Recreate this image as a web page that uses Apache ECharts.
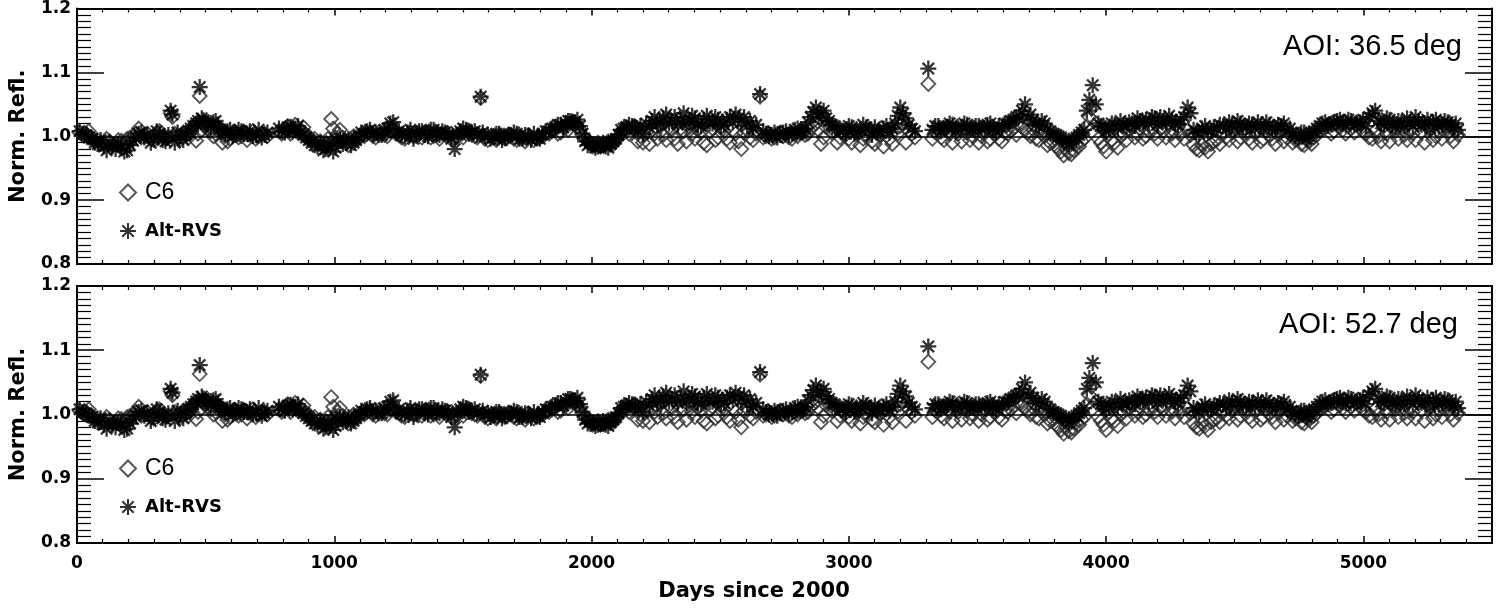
<!DOCTYPE html>
<html>
<head>
<meta charset="utf-8">
<script src="https://cdn.jsdelivr.net/npm/echarts@6/dist/echarts.min.js"></script>
<style>
  html, body { margin: 0; padding: 0; background: #fff; }
  #chart { width: 1498px; height: 610px; }
</style>
</head>
<body>
<div id="chart"></div>
<script>
// two interleaved sets of observations (days since 2000), each shared by C6 and Alt-RVS
const daysA = [
  10, 35, 58, 80, 104, 127, 150, 172, 195, 218, 240,
  262, 287, 310, 333, 355, 364, 380, 402, 425, 442,
  463, 477, 492, 510, 530, 548, 565,
  585, 605, 628, 650, 672, 695, 718, 740,
  785, 808, 830, 848, 870, 890,
  912, 935, 958, 975, 988, 1005, 1022, 1045, 1065, 1085,
  1105, 1128, 1150, 1172, 1195, 1218, 1240, 1262, 1285, 1308, 1330, 1352, 1375, 1398, 1420,
  1442, 1468, 1490, 1512, 1535, 1556, 1569,
  1585, 1608, 1630, 1652, 1675, 1698, 1720, 1742, 1765, 1788, 1810,
  1835, 1858, 1880, 1900, 1918, 1935, 1955,
  1975, 1995, 2015, 2035, 2055, 2075, 2095,
  2115, 2135, 2158, 2180, 2200,
  2225, 2245, 2268, 2290, 2312, 2335, 2358, 2380, 2402, 2425, 2448, 2470, 2492, 2515, 2538, 2560, 2582, 2605, 2628, 2655,
  2678, 2700, 2722, 2745, 2768, 2790, 2812, 2830,
  2852, 2872, 2892, 2912, 2934,
  2955, 2978, 3000, 3022, 3045, 3068, 3090, 3112, 3135, 3158,
  3180, 3200, 3222, 3245,
  3309,
  3325, 3348, 3370, 3392, 3415, 3438, 3460, 3482, 3505, 3528, 3550, 3572, 3595,
  3618, 3640, 3662, 3685, 3706,
  3728, 3750, 3772, 3795, 3815, 3835, 3855, 3875, 3895, 3915,
  3935, 3948, 3960,
  3980, 4000, 4022, 4045, 4068, 4090, 4112, 4132,
  4155, 4178, 4200, 4222, 4245, 4268, 4290, 4317,
  4340, 4362, 4385, 4408, 4430,
  4455, 4478, 4500, 4522, 4545, 4568, 4590, 4612, 4635, 4658, 4680, 4702,
  4725, 4748, 4770, 4790, 4808,
  4830, 4852, 4875, 4898, 4920, 4942, 4965, 4988, 5010,
  5035, 5058, 5080, 5102, 5125, 5148, 5170, 5192, 5215, 5238, 5260, 5282, 5305, 5328, 5350, 5368
];
const c6A = [
  1.006, 1.004, 0.998, 0.994, 0.990, 0.992, 0.988, 0.993, 0.996, 1.000, 1.012,
  1.002, 0.996, 1.006, 1.000, 0.998, 1.036, 1.004, 0.995, 1.002, 1.006,
  0.993, 1.063, 1.018, 1.010, 1.000, 1.015, 0.990,
  0.992, 1.004, 0.998, 1.006, 1.002, 0.996, 1.004, 1.000,
  1.008, 1.012, 1.004, 1.018, 1.010, 1.002,
  0.994, 0.990, 0.986, 0.996, 1.027, 0.998, 1.010, 0.992, 0.995, 0.998,
  1.002, 1.004, 1.000, 1.006, 1.002, 1.008, 1.004, 0.998, 1.002, 1.000, 1.004, 1.006, 0.998, 1.002, 1.004,
  1.000, 0.996, 1.006, 1.004, 1.002, 0.998, 1.060,
  0.996, 1.000, 0.994, 0.998, 1.002, 0.996, 1.000, 0.992, 0.998, 0.996, 1.000,
  1.004, 1.010, 1.006, 1.016, 1.020, 1.018, 1.010,
  0.996, 0.988, 0.986, 0.984, 0.988, 0.990, 0.994,
  1.004, 1.008, 1.012, 0.992, 0.990,
  0.988, 1.004, 1.016, 0.994, 1.010, 0.988, 1.008, 1.014, 0.996, 1.006, 0.986, 1.012, 0.998, 1.008, 0.990, 1.004, 0.980, 1.010, 0.994, 1.062,
  1.000, 0.996, 1.004, 1.000, 0.998, 1.004, 1.008, 1.002,
  1.012, 1.020, 0.988, 1.014, 1.006,
  0.990, 1.004, 0.996, 1.008, 0.986, 1.002, 0.992, 1.006, 0.984, 0.996,
  1.010, 1.016, 0.990, 1.004,
  1.082,
  0.996, 1.010, 0.994, 1.004, 1.012, 0.992, 1.006, 1.000, 0.990, 1.008, 0.996, 1.004, 0.992,
  1.004, 1.012, 1.018, 1.010, 1.000,
  0.996, 1.004, 0.986, 0.992, 0.980, 0.970, 0.974, 0.978, 0.984, 0.996,
  1.030, 1.045, 1.020,
  0.990, 0.976, 0.994, 0.982, 1.004, 1.010, 0.998, 1.012,
  1.000, 1.014, 0.996, 1.008, 1.018, 0.994, 1.004, 1.010,
  0.986, 0.978, 0.982, 0.988, 0.994,
  1.004, 0.994, 1.012, 0.998, 1.006, 0.990, 1.010, 0.996, 1.002, 0.988, 1.008, 0.998,
  0.990, 0.996, 0.986, 0.992, 0.998,
  1.008, 1.014, 1.004, 1.018, 1.010, 1.016, 1.006, 1.012, 1.004,
  0.996, 1.000, 1.016, 0.992, 1.008, 1.012, 0.994, 1.004, 1.018, 0.990, 1.010, 1.000, 0.996, 1.012, 0.992, 1.002
];
const rvsA = [
  1.008, 1.002, 0.996, 0.988, 0.984, 0.990, 0.980, 0.986, 0.978, 0.993, 1.004,
  0.998, 0.990, 1.008, 0.994, 1.002, 1.040, 0.990, 1.000, 1.004, 1.012,
  1.020, 1.077, 1.025, 1.018, 1.022, 1.012, 1.008,
  1.008, 1.000, 1.010, 1.004, 1.008, 1.002, 0.998, 1.006,
  1.012, 1.006, 1.015, 1.010, 1.006, 0.998,
  0.990, 0.984, 0.978, 0.986, 0.992, 0.982, 0.996, 0.990, 0.986, 0.994,
  1.006, 1.008, 1.004, 1.002, 1.010, 1.020, 1.006, 1.002, 1.006, 0.996, 1.008, 1.002, 1.010, 1.004, 1.008,
  1.004, 0.980, 1.008, 1.010, 1.006, 1.002, 1.062,
  1.000, 0.996, 1.004, 0.994, 1.000, 1.006, 0.996, 1.002, 0.994, 0.998, 1.004,
  1.008, 1.014, 1.018, 1.020, 1.024, 1.022, 1.016,
  0.992, 0.990, 0.982, 0.986, 0.984, 0.988, 0.996,
  1.010, 1.014, 1.016, 1.010, 1.004,
  1.014, 1.030, 1.020, 1.034, 1.024, 1.018, 1.036, 1.022, 1.028, 1.016, 1.032, 1.020, 1.026, 1.018, 1.030, 1.034, 1.022, 1.016, 1.012, 1.066,
  1.004, 1.002, 0.998, 1.006, 1.002, 1.010, 1.006, 1.012,
  1.030, 1.045, 1.036, 1.028, 1.018,
  1.012, 1.008, 1.016, 1.004, 1.010, 1.014, 1.002, 1.008, 1.012, 1.006,
  1.020, 1.045, 1.028, 1.012,
  1.106,
  1.010, 1.016, 1.012, 1.020, 1.008, 1.014, 1.018, 1.010, 1.016, 1.012, 1.020, 1.008, 1.014,
  1.020, 1.026, 1.032, 1.050, 1.034,
  1.018, 1.024, 1.010, 1.004, 1.000, 0.994, 0.988, 0.996, 1.002, 1.010,
  1.057, 1.080, 1.050,
  1.016, 1.008, 1.020, 1.012, 1.018, 1.022, 1.016, 1.024,
  1.026, 1.030, 1.018, 1.024, 1.032, 1.020, 1.026, 1.045,
  1.010, 1.004, 1.016, 1.008, 1.012,
  1.016, 1.022, 1.010, 1.020, 1.014, 1.018, 1.022, 1.012, 1.018, 1.010, 1.016, 1.008,
  1.004, 0.998, 1.006, 1.000, 1.008,
  1.016, 1.022, 1.018, 1.024, 1.020, 1.026, 1.018, 1.022, 1.016,
  1.036, 1.024, 1.018, 1.026, 1.014, 1.022, 1.028, 1.016, 1.024, 1.020, 1.012, 1.026, 1.018, 1.022, 1.014, 1.010
];

const daysB = [
  22, 46, 69, 92, 115, 138, 161, 184, 206, 229,
  250, 274, 298, 321, 344, 371, 391, 413, 434,
  452, 470, 485, 501, 520, 539, 556,
  575, 595, 616, 639, 661, 683, 706, 729,
  796, 819, 839, 859, 880,
  901, 924, 946, 966, 996, 1013, 1033, 1055, 1075,
  1095, 1117, 1139, 1161, 1184, 1206, 1229, 1251, 1274, 1296, 1319, 1341, 1364, 1386, 1409, 1431,
  1455, 1479, 1501, 1524, 1546,
  1577, 1597, 1619, 1641, 1664, 1686, 1709, 1731, 1754, 1776, 1799, 1822,
  1846, 1869, 1890, 1909, 1927, 1945,
  1965, 1985, 2005, 2025, 2045, 2065, 2085, 2105,
  2125, 2146, 2169, 2190, 2212,
  2235, 2256, 2279, 2301, 2323, 2346, 2369, 2391, 2413, 2436, 2459, 2481, 2503, 2526, 2549, 2571, 2593, 2616, 2640,
  2667, 2689, 2711, 2733, 2756, 2779, 2801, 2821,
  2841, 2862, 2882, 2902, 2923,
  2945, 2966, 2989, 3011, 3034, 3056, 3079, 3101, 3124, 3146, 3169,
  3190, 3211, 3233, 3257,
  3336, 3359, 3381, 3403, 3426, 3449, 3471, 3493, 3516, 3539, 3561, 3583, 3606,
  3629, 3651, 3673, 3695,
  3717, 3739, 3761, 3783, 3805, 3825, 3845, 3865, 3885, 3905, 3925,
  3970, 3990, 4011, 4033, 4056, 4079, 4101, 4122, 4143,
  4166, 4189, 4211, 4233, 4256, 4279, 4303, 4328,
  4351, 4373, 4396, 4419, 4442,
  4466, 4489, 4511, 4533, 4556, 4579, 4601, 4623, 4646, 4669, 4691, 4714,
  4736, 4759, 4780, 4799,
  4819, 4841, 4863, 4886, 4909, 4931, 4953, 4976, 4999, 5022,
  5046, 5069, 5091, 5113, 5136, 5159, 5181, 5203, 5226, 5249, 5271, 5293, 5316, 5339, 5359
];
const c6B = [
  1.002, 1.008, 0.992, 0.988, 0.996, 0.986, 0.994, 0.990, 0.998, 1.004,
  0.998, 1.004, 0.994, 1.008, 0.996, 1.030, 1.000, 1.006, 0.998,
  1.014, 1.004, 1.010, 1.022, 1.008, 1.004, 1.012,
  1.000, 0.996, 1.006, 1.000, 0.994, 1.008, 1.000, 1.004,
  1.004, 1.016, 1.010, 1.006, 1.014,
  1.000, 0.996, 0.992, 0.984, 1.012, 1.004, 0.998, 0.986, 1.000,
  0.996, 1.000, 1.006, 0.998, 1.004, 1.000, 1.010, 1.002, 0.996, 1.006, 1.000, 0.998, 1.004, 1.000, 0.996, 1.002,
  1.004, 1.000, 0.998, 1.008, 1.000,
  1.002, 0.994, 0.998, 1.002, 0.996, 1.000, 0.994, 0.998, 1.002, 0.994, 0.998, 1.004,
  1.008, 1.004, 1.014, 1.010, 1.022, 1.016,
  1.002, 0.992, 0.984, 0.990, 0.986, 0.992, 0.988, 0.998,
  1.010, 1.004, 1.016, 1.000, 1.006,
  1.010, 0.996, 1.002, 1.014, 0.996, 1.012, 0.992, 1.004, 1.010, 0.990, 1.008, 0.994, 1.014, 0.996, 1.010, 0.992, 1.006, 0.998, 1.004,
  0.998, 1.004, 0.998, 1.006, 1.002, 0.996, 1.000, 1.006,
  1.004, 1.016, 1.010, 0.998, 1.020,
  1.008, 0.998, 1.010, 0.990, 1.004, 0.996, 1.010, 0.988, 1.002, 1.008, 0.988,
  1.004, 1.024, 1.008, 0.998,
  1.006, 0.998, 1.014, 0.990, 1.004, 1.010, 0.994, 1.008, 1.000, 0.992, 1.010, 0.996, 1.006,
  1.008, 1.002, 1.014, 1.006,
  1.010, 0.994, 1.000, 0.990, 0.984, 0.976, 0.980, 0.972, 0.988, 0.992, 1.016,
  0.996, 0.984, 1.004, 0.990, 1.000, 0.994, 1.014, 1.004, 0.996,
  1.008, 1.004, 1.012, 0.998, 1.004, 1.014, 0.996, 1.002,
  0.980, 0.986, 0.976, 0.992, 0.988,
  0.998, 1.006, 0.992, 1.010, 0.996, 1.004, 0.992, 1.008, 0.996, 1.002, 0.992, 1.004,
  0.994, 0.988, 0.994, 0.988,
  1.002, 1.010, 1.018, 1.008, 1.014, 1.004, 1.012, 1.018, 1.008, 0.998,
  1.008, 0.992, 1.004, 1.014, 0.996, 1.002, 1.010, 0.994, 1.006, 1.014, 0.994, 1.008, 1.016, 1.000, 1.008
];
const rvsB = [
  1.004, 0.998, 0.990, 0.994, 0.978, 0.984, 0.988, 0.976, 0.986, 0.998,
  1.006, 1.002, 0.996, 1.004, 0.992, 1.034, 1.006, 0.994, 1.008,
  1.016, 1.024, 1.028, 1.020, 1.014, 1.024, 1.010,
  1.004, 1.010, 1.002, 1.008, 1.004, 1.000, 1.010, 1.002,
  1.008, 1.014, 1.008, 1.016, 1.002,
  0.994, 0.986, 0.990, 0.980, 0.976, 0.992, 0.988, 0.996, 0.990,
  1.000, 1.004, 1.010, 1.006, 1.002, 1.012, 1.022, 1.008, 1.000, 1.010, 1.004, 1.008, 1.000, 1.010, 1.002, 1.006,
  0.996, 1.002, 1.012, 1.004, 1.008,
  1.006, 1.002, 0.998, 1.004, 0.998, 1.002, 1.004, 0.996, 1.000, 1.004, 0.996, 1.008,
  1.012, 1.018, 1.014, 1.024, 1.020, 1.026,
  1.004, 0.986, 0.988, 0.984, 0.990, 0.982, 0.992, 1.002,
  1.012, 1.018, 1.012, 1.016, 1.020,
  1.024, 1.018, 1.028, 1.020, 1.030, 1.026, 1.020, 1.032, 1.018, 1.026, 1.020, 1.030, 1.016, 1.026, 1.022, 1.028, 1.030, 1.024, 1.018,
  1.008, 1.000, 1.006, 1.002, 1.008, 1.004, 1.012, 1.008,
  1.022, 1.038, 1.030, 1.040, 1.024,
  1.016, 1.010, 1.004, 1.014, 1.008, 1.018, 1.010, 1.014, 1.006, 1.016, 1.012,
  1.032, 1.036, 1.018, 1.008,
  1.016, 1.008, 1.014, 1.018, 1.012, 1.020, 1.010, 1.016, 1.012, 1.018, 1.010, 1.016, 1.020,
  1.024, 1.030, 1.040, 1.028,
  1.026, 1.016, 1.020, 1.008, 1.002, 0.998, 0.992, 0.990, 0.998, 1.006, 1.040,
  1.020, 1.014, 1.010, 1.018, 1.024, 1.016, 1.020, 1.028, 1.022,
  1.020, 1.028, 1.030, 1.022, 1.026, 1.018, 1.030, 1.036,
  1.006, 1.012, 1.008, 1.014, 1.018,
  1.012, 1.018, 1.024, 1.014, 1.020, 1.012, 1.016, 1.022, 1.012, 1.018, 1.020, 1.012,
  1.000, 1.006, 0.996, 1.004,
  1.012, 1.020, 1.016, 1.022, 1.026, 1.018, 1.024, 1.020, 1.026, 1.030,
  1.040, 1.020, 1.028, 1.018, 1.024, 1.016, 1.022, 1.030, 1.018, 1.026, 1.022, 1.016, 1.024, 1.018, 1.020
];

const yTicks = [0.8, 0.9, 1.0, 1.1, 1.2];
const xTicks = [0, 1000, 2000, 3000, 4000, 5000];
const panelLabels = ['AOI: 36.5 deg', 'AOI: 52.7 deg'];

const ASTERISK = 'path://M0,-10L0,10M-10,0L10,0M-7.1,-7.1L7.1,7.1M-7.1,7.1L7.1,-7.1';
const axisFont = 'DejaVu Sans';

const c6Data = daysA.map((d, i) => [d, c6A[i]]).concat(daysB.map((d, i) => [d, c6B[i]]));
const rvsData = daysA.map((d, i) => [d, rvsA[i]]).concat(daysB.map((d, i) => [d, rvsB[i]]));

const grids = [
  { left: 73, top: 5, width: 1419, height: 259 },
  { left: 73, top: 286, width: 1419, height: 257 }
];

function xAxisFor(gi, pos) {
  return {
    gridIndex: gi, type: 'value', position: pos,
    min: 0, max: 5500, interval: 1000,
    axisLine: { show: true, onZero: false, lineStyle: { color: '#000', width: 2 } },
    axisTick: { show: true, inside: true, length: 7, lineStyle: { color: '#000', width: 1.5 } },
    minorTick: { show: true, splitNumber: 10, length: 4, lineStyle: { color: '#000', width: 1.2 } },
    splitLine: { show: false },
    axisLabel: {
      show: gi === 1 && pos === 'bottom', margin: 12,
      fontFamily: axisFont, fontWeight: 'bold', fontSize: 17, color: '#000',
      formatter: v => xTicks.indexOf(v) >= 0 ? String(v) : ''
    }
  };
}

function yAxisFor(gi, pos) {
  return {
    gridIndex: gi, type: 'value', position: pos,
    min: yTicks[0], max: yTicks[yTicks.length - 1], interval: 0.1,
    name: pos === 'left' ? 'Norm. Refl.' : '',
    nameLocation: 'middle', nameGap: 48,
    nameTextStyle: { fontFamily: axisFont, fontWeight: 'bold', fontSize: 21, color: '#000' },
    axisLine: { show: true, onZero: false, lineStyle: { color: '#000', width: 2 } },
    axisTick: { show: true, inside: true, length: 27, lineStyle: { color: '#000', width: 1.5 } },
    minorTick: { show: true, splitNumber: 10, length: 14, lineStyle: { color: '#000', width: 1.2 } },
    splitLine: { show: false },
    axisLabel: {
      show: pos === 'left', margin: 6,
      fontFamily: axisFont, fontWeight: 'bold', fontSize: 17, color: '#000',
      formatter: v => v.toFixed(1)
    }
  };
}

const xAxes = [], yAxes = [], series = [], legends = [];
grids.forEach((g, gi) => {
  xAxes.push(xAxisFor(gi, 'bottom'), xAxisFor(gi, 'top'));
  yAxes.push(yAxisFor(gi, 'left'), yAxisFor(gi, 'right'));
  series.push({
    name: 'C6', type: 'scatter', xAxisIndex: gi * 2, yAxisIndex: gi * 2,
    data: c6Data, symbol: 'diamond', symbolSize: 14,
    itemStyle: { color: 'rgba(0,0,0,0)', borderColor: '#2a2a2a', borderWidth: 1.8 },
    markLine: {
      silent: true, symbol: ['none', 'none'], label: { show: false },
      lineStyle: { color: '#000', type: 'solid', width: 1.5 },
      data: [{ yAxis: 1.0 }]
    }
  });
  series.push({
    name: 'Alt-RVS', type: 'scatter', xAxisIndex: gi * 2, yAxisIndex: gi * 2,
    data: rvsData, symbol: ASTERISK, symbolSize: 16,
    itemStyle: { color: 'rgba(0,0,0,0)', borderColor: '#000', borderWidth: 2.3 }
  });
  legends.push({
    orient: 'vertical', left: 114, top: gi === 0 ? 176 : 452,
    itemWidth: 16, itemHeight: 16, itemGap: 18,
    data: [
      { name: 'C6', textStyle: { fontFamily: 'Liberation Sans', fontSize: 23, color: '#000', padding: [0, 0, 0, 4] } },
      { name: 'Alt-RVS', textStyle: { fontFamily: axisFont, fontWeight: 'bold', fontSize: 18, color: '#000', padding: [0, 0, 0, 4] } }
    ]
  });
});

const chart = echarts.init(document.getElementById('chart'));
chart.setOption({
  animation: false,
  backgroundColor: '#fff',
  grid: grids,
  xAxis: xAxes,
  yAxis: yAxes,
  legend: legends,
  series: series,
  graphic: [
    { type: 'text', x: 1462, y: 47, style: { text: panelLabels[0], font: '29px "Liberation Sans"', fill: '#000', align: 'right', verticalAlign: 'middle' } },
    { type: 'text', x: 1458, y: 325, style: { text: panelLabels[1], font: '29px "Liberation Sans"', fill: '#000', align: 'right', verticalAlign: 'middle' } },
    { type: 'text', x: 754, y: 592, style: { text: 'Days since 2000', font: 'bold 21px "DejaVu Sans"', fill: '#000', align: 'center', verticalAlign: 'middle' } }
  ]
});
</script>
</body>
</html>
